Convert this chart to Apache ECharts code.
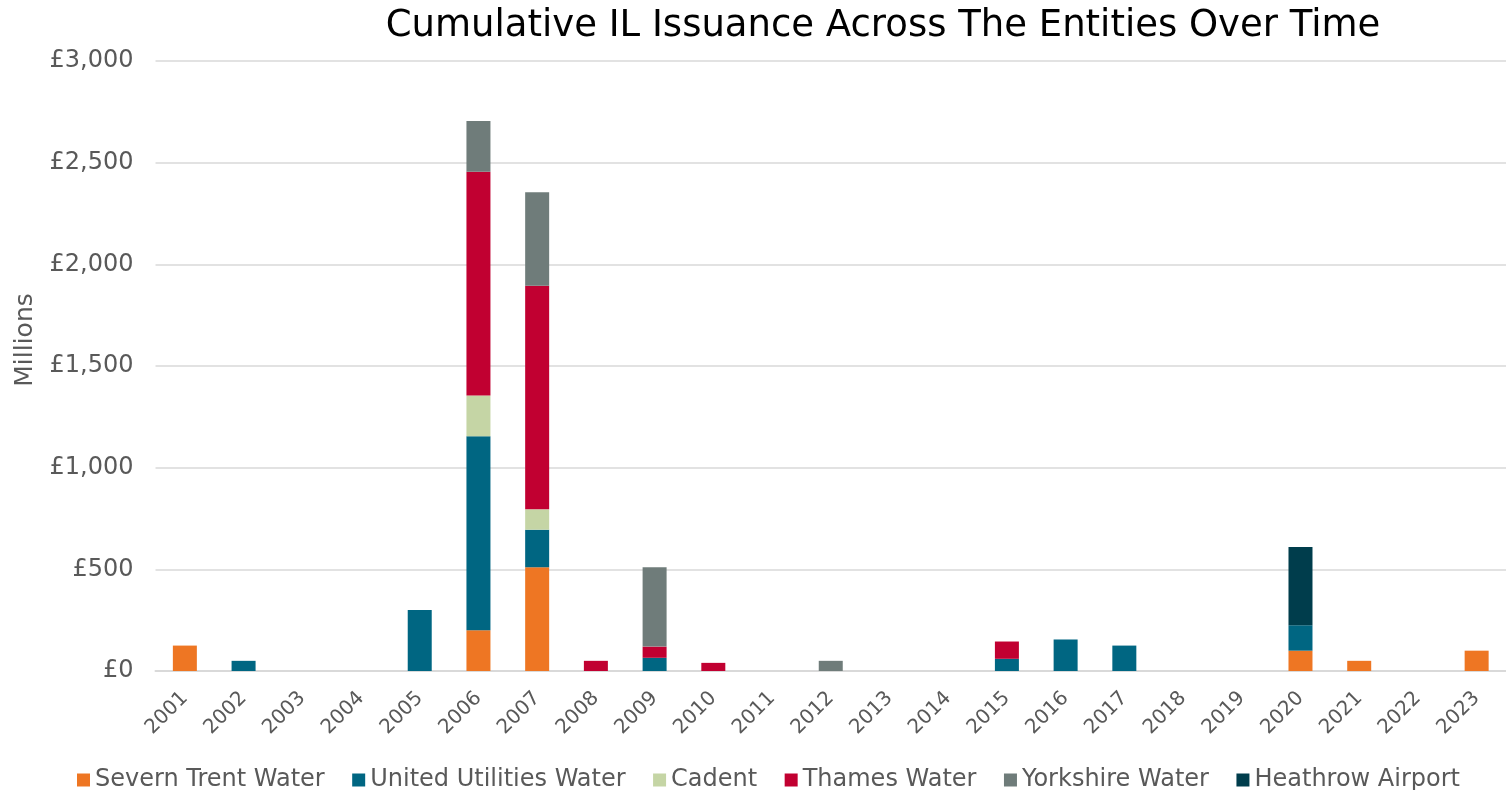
<!DOCTYPE html>
<html><head><meta charset="utf-8">
<script src="https://cdn.jsdelivr.net/npm/echarts@6/dist/echarts.min.js"></script>
<style>html,body{margin:0;padding:0;background:#fff}#c{width:1506px;height:790px}</style>
</head><body><div id="c"></div>
<script>
const years = ['2001','2002','2003','2004','2005','2006','2007','2008','2009','2010','2011','2012','2013','2014','2015','2016','2017','2018','2019','2020','2021','2022','2023'];
//                 01   02   03 04  05   06    07   08  09  10 11 12 13 14 15  16   17  18 19  20  21 22 23
const severnTrent = [125, 0,   0, 0, 0,   200,  510, 0,  0,  0, 0, 0, 0, 0, 0,  0,   0,  0, 0, 100, 50, 0, 100];
const unitedUtil  = [0,   50,  0, 0, 300, 955,  185, 0,  65, 0, 0, 0, 0, 0, 60, 155, 125, 0, 0, 125, 0, 0, 0];
const cadent      = [0,   0,   0, 0, 0,   200,  100, 0,  0,  0, 0, 0, 0, 0, 0,  0,   0,  0, 0, 0,   0, 0, 0];
const thames      = [0,   0,   0, 0, 0,   1100, 1100, 50, 55, 40, 0, 0, 0, 0, 85, 0,  0,  0, 0, 0,   0, 0, 0];
const yorkshire   = [0,   0,   0, 0, 0,   250,  460, 0,  390, 0, 0, 50, 0, 0, 0, 0,   0,  0, 0, 0,   0, 0, 0];
const heathrow    = [0,   0,   0, 0, 0,   0,    0,   0,  0,  0, 0, 0, 0, 0, 0,  0,   0,  0, 0, 385, 0, 0, 0];
const yTicks = [0, 500, 1000, 1500, 2000, 2500, 3000];

const seriesDefs = [
  ['Severn Trent Water', severnTrent, '#EE7623'],
  ['United Utilities Water', unitedUtil, '#006682'],
  ['Cadent', cadent, '#C5D5A5'],
  ['Thames Water', thames, '#C10031'],
  ['Yorkshire Water', yorkshire, '#6F7C7A'],
  ['Heathrow Airport', heathrow, '#003D4C']
];
const FONT = 'DejaVu Sans';
const chart = echarts.init(document.getElementById('c'), null, {renderer:'canvas'});
chart.setOption({
  animation: false,
  backgroundColor: '#ffffff',
  title: {
    text: 'Cumulative IL Issuance Across The Entities Over Time',
    left: 878, top: 3, textAlign: 'center',
    textStyle: {fontFamily: FONT, fontSize: 37, fontWeight: 'normal', color: '#000'}
  },
  legend: {
    left: 72, top: 763, itemWidth: 13, itemHeight: 13, itemGap: 27.5,
    icon: 'rect',
    textStyle: {fontFamily: FONT, fontSize: 24, color: '#595959'},
    data: seriesDefs.map(s => s[0])
  },
  grid: {left: 155.5, top: 61, width: 1364, height: 610, containLabel: false},
  xAxis: {
    type: 'category', data: years,
    axisLine: {lineStyle: {color: '#d9d9d9', width: 2}},
    axisTick: {show: false},
    axisLabel: {rotate: 45, fontFamily: FONT, fontSize: 20, color: '#595959', margin: 24, interval: 0}
  },
  yAxis: {
    type: 'value', min: yTicks[0], max: yTicks[yTicks.length-1], interval: 500,
    name: 'Millions', nameLocation: 'middle', nameGap: 118, nameRotate: 90,
    nameTextStyle: {fontFamily: FONT, fontSize: 25, color: '#595959', padding: [0,0,0,52]},
    axisLine: {show: false}, axisTick: {show: false},
    axisLabel: {fontFamily: FONT, fontSize: 24, color: '#595959', margin: 22,
      formatter: v => '£' + v.toLocaleString('en-GB')},
    splitLine: {lineStyle: {color: '#d9d9d9', width: 1.5}}
  },
  series: seriesDefs.map(([name, data, color]) => ({
    name, type: 'bar', stack: 'total', data, barWidth: 24,
    itemStyle: {color}
  }))
});
</script></body></html>
